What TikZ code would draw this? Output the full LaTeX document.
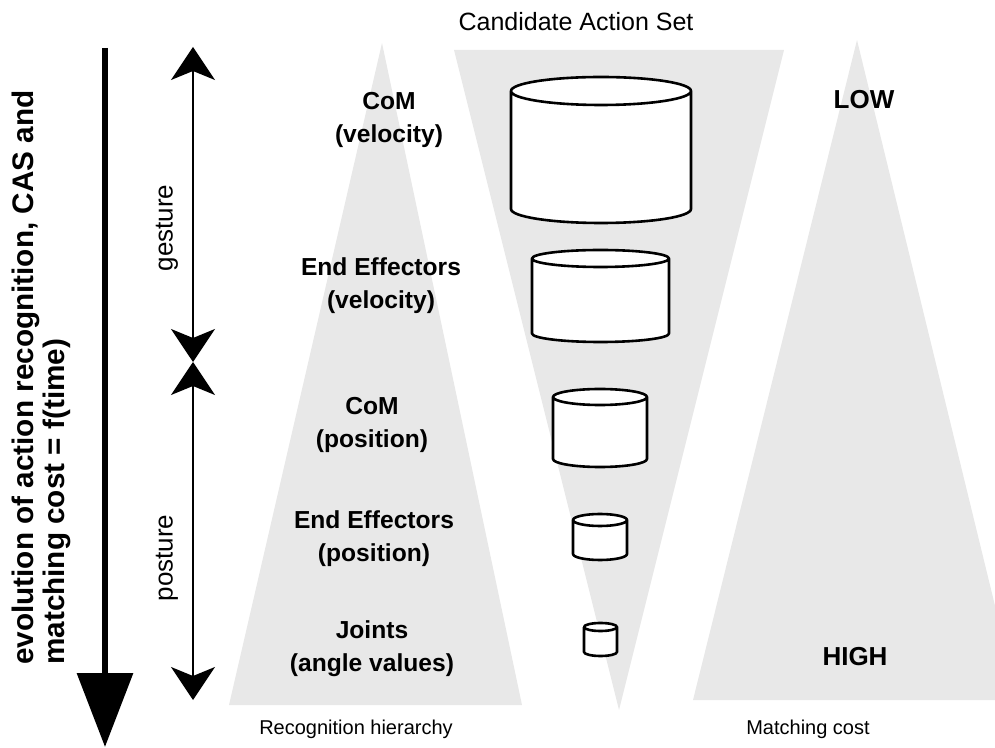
\documentclass[tikz,border=0pt]{standalone}
\usepackage{fontspec}
\setmainfont{Liberation Sans}
\usetikzlibrary{arrows.meta}

\begin{document}
\begin{tikzpicture}[x=1pt,y=1pt,
  band/.style={fill=black!9},
  cyl/.style={draw=black, fill=white, line width=2.6pt, line join=round},
  lvl/.style={align=center, inner sep=0pt, font=\fontsize{24.6}{33}\selectfont\bfseries},
  foot/.style={anchor=base, inner sep=0pt, font=\fontsize{20}{24}\selectfont},
  side/.style={rotate=90, inner sep=0pt, font=\fontsize{26}{30}\selectfont},
  span/.style={line width=1.5pt, {Stealth[length=33pt,width=44pt,inset=9pt]}-{Stealth[length=33pt,width=44pt,inset=9pt]}}]
\useasboundingbox (0,0) rectangle (995,747);
\clip (0,0) rectangle (995,747);

% grey triangles
\fill[band] (382,704) -- (522,42) -- (229,42) -- cycle;
\fill[band] (454,697) -- (784,697) -- (619,37) -- cycle;
\fill[band] (857,707) -- (1018,47) -- (693,47) -- cycle;

% candidate action sets
\draw[cyl] (511,656) -- (511,538) arc[start angle=180,end angle=360,x radius=90,y radius=14] -- (691,656) arc[start angle=0,end angle=360,x radius=90,y radius=14];
\draw[cyl] (532,488.5) -- (532,413.5) arc[start angle=180,end angle=360,x radius=68.5,y radius=8.5] -- (669,488.5) arc[start angle=0,end angle=360,x radius=68.5,y radius=8.5];
\draw[cyl] (553,350) -- (553,288) arc[start angle=180,end angle=360,x radius=47,y radius=8] -- (647,350) arc[start angle=0,end angle=360,x radius=47,y radius=8];
\draw[cyl] (573,227) -- (573,193) arc[start angle=180,end angle=360,x radius=27,y radius=6] -- (627,227) arc[start angle=0,end angle=360,x radius=27,y radius=6];
\draw[cyl] (584,120) -- (584,95) arc[start angle=180,end angle=360,x radius=16.5,y radius=4] -- (617,120) arc[start angle=0,end angle=360,x radius=16.5,y radius=4];

% hierarchy levels
\node[lvl] (comv) at (389,627) {CoM\\(velocity)};
\node[lvl] (eev) at (381,461) {End Effectors\\(velocity)};
\node[lvl] (comp) at (372,322) {CoM\\(position)};
\node[lvl] (eep) at (374,208.5) {End Effectors\\(position)};
\node[lvl] (jnt) at (372,98.5) {Joints\\(angle values)};

\node[foot] (rh) at (356,13) {Recognition hierarchy};
\node[foot] (mc) at (808,13) {Matching cost};
\node[anchor=base, inner sep=0pt, font=\fontsize{25}{30}\selectfont] (cas) at (576,716) {Candidate Action Set};
\node[anchor=base, inner sep=0pt, font=\fontsize{26}{30}\selectfont\bfseries] (low) at (864,638) {LOW};
\node[anchor=base, inner sep=0pt, font=\fontsize{26}{30}\selectfont\bfseries] (high) at (855,82) {HIGH};

% time axis
\coordinate (ttop) at (105,699);
\coordinate (tbot) at (105,0);
\draw[line width=6.5pt, -{Triangle[length=74pt,width=55pt]}] (ttop) -- (tbot);
\node[rotate=90, anchor=west, align=left, inner sep=0pt, font=\fontsize{29.7}{31}\selectfont\bfseries] (evo) at (41,82) {evolution of action recognition, CAS and\\matching cost = f(time)};

% gesture / posture
\coordinate (gtop) at (193,700);
\coordinate (gmid) at (193,385);
\coordinate (pbot) at (193,47);
\draw[span] (gtop) -- (gmid);
\draw[span] (gmid) -- (pbot);
\node[side] (ges) at (167,519) {gesture};
\node[side] (pos) at (167,189) {posture};
\end{tikzpicture}
\end{document}
